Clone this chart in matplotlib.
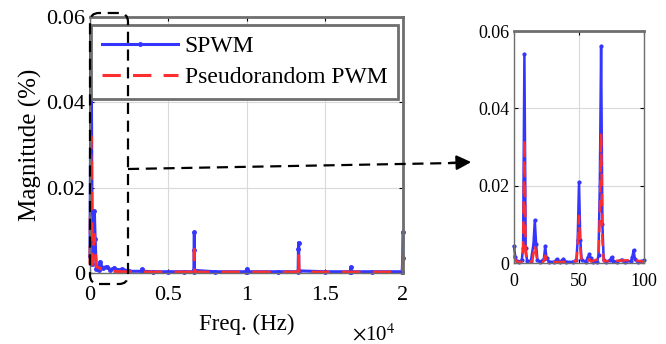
## Harmonic spectrum: SPWM vs pseudorandom PWM, with zoomed inset of 0-100 Hz
import numpy as np
import matplotlib
matplotlib.use('Agg')
import matplotlib.pyplot as plt
from matplotlib.patches import FancyBboxPatch, FancyArrowPatch
from matplotlib.lines import Line2D
from matplotlib.transforms import IdentityTransform

plt.rcParams['font.family'] = ['Liberation Serif', 'DejaVu Serif']
plt.rcParams['mathtext.fontset'] = 'stix'

## Main spectrum data (Hz, %)
spwm_f   = [0, 67, 150, 277, 330, 400, 550, 640, 800, 1070, 1300, 1560, 1800, 2030, 2500, 3300, 3333, 3400,
            4000, 5000, 6000, 6640, 6660, 6667, 6675, 8000, 9970, 10000, 10030, 12000, 13300, 13320, 13333,
            13345, 15000, 16640, 16667, 16700, 18000, 19950, 19980, 20000]
spwm_mag = [0.004, 0.056, 0.002, 0.0145, 0.008, 0.001, 0.0008, 0.0026, 0.0012, 0.0015, 0.0008, 0.0012, 0.0006,
            0.0009, 0.0004, 0.0004, 0.0009, 0.0004, 0.0003, 0.0003, 0.0003, 0.0003, 0.0055, 0.0095, 0.0006,
            0.0003, 0.0003, 0.0009, 0.0003, 0.0003, 0.0003, 0.0057, 0.0071, 0.0005, 0.0003, 0.0003, 0.0014,
            0.0003, 0.0003, 0.0003, 0.0034, 0.0095]

prpwm_f   = [0, 67, 150, 277, 400, 700, 1000, 2000, 4000, 6000, 6640, 6667, 6690, 10000, 13300, 13333, 13360,
             17000, 19960, 20000]
prpwm_mag = [0.002, 0.032, 0.002, 0.009, 0.0015, 0.001, 0.0005, 0.0003, 0.0002, 0.0002, 0.0002, 0.0055, 0.0002,
             0.0002, 0.0002, 0.0041, 0.0002, 0.0002, 0.0002, 0.0044]

## Inset data, 0-100 Hz
in_spwm_f   = [0, 1, 2, 4, 6, 7, 8, 9, 10, 13, 15, 16, 17, 18, 20, 23, 24, 25, 27, 31, 33, 35, 38, 40, 45, 48, 49,
               50, 51, 52, 55, 57, 58, 59, 61, 64, 65, 66, 67, 68, 69, 71, 74, 75, 76, 79, 83, 85, 90, 91, 92,
               93, 95, 98, 100]
in_spwm_mag = [0.0043, 0.0015, 0.0005, 0.0003, 0.0008, 0.004, 0.054, 0.004, 0.0006, 0.0005, 0.005, 0.011, 0.005,
               0.0008, 0.0003, 0.001, 0.0043, 0.0012, 0.0003, 0.0003, 0.001, 0.0003, 0.001, 0.0003, 0.0003,
               0.0008, 0.006, 0.0209, 0.006, 0.0008, 0.0003, 0.0015, 0.0022, 0.0012, 0.0003, 0.0003, 0.002,
               0.02, 0.056, 0.01, 0.0008, 0.0003, 0.0008, 0.0015, 0.0006, 0.0003, 0.0009, 0.0003, 0.0005,
               0.0015, 0.0033, 0.001, 0.0003, 0.0004, 0.0007]

in_prpwm_f   = [0, 1, 3, 6, 7, 8, 9, 10, 14, 15, 16, 17, 18, 22, 23, 24, 25, 27, 40, 48, 49, 50, 51, 52, 57, 58,
                59, 65, 66, 67, 68, 69, 75, 92, 100]
in_prpwm_mag = [0.002, 0.0008, 0.0002, 0.0004, 0.003, 0.032, 0.0025, 0.0003, 0.0004, 0.0025, 0.0046, 0.0025,
                0.0004, 0.0002, 0.0006, 0.0019, 0.0006, 0.0002, 0.0003, 0.0005, 0.004, 0.0122, 0.004, 0.0005,
                0.0006, 0.001, 0.0004, 0.001, 0.012, 0.0336, 0.006, 0.0005, 0.0005, 0.0008, 0.0003]

main_xticks = [0, 5000, 10000, 15000, 20000]
main_xlabels = ['0', '0.5', '1', '1.5', '2']
yticks = [0, 0.02, 0.04, 0.06]
ylabels = ['0', '0.02', '0.04', '0.06']

blue = '#3535ff'
red = '#ff2e2e'
frame = '#6e6e6e'

fig = plt.figure(figsize=(6.66, 3.44), dpi=100)

def style_axes(ax, fs):
    ax.tick_params(direction='in', top=True, right=True, length=3, labelsize=fs, width=0.8, colors='black')
    ax.grid(True, color='#d9d9d9', linewidth=0.8)
    ax.set_axisbelow(True)
    for s in ['left', 'bottom', 'right']:
        ax.spines[s].set_color(frame)
        ax.spines[s].set_linewidth(1.0)
    ax.spines['top'].set_color(frame)
    ax.spines['top'].set_linewidth(2.0)

## Main axes
ax1 = fig.add_axes([90/666, 1-273/344, 313/666, 256/344])
ax1.plot(spwm_f, spwm_mag, '-', color=blue, lw=2.2, marker='.', ms=5, label='SPWM', clip_on=False)
ax1.plot(prpwm_f, prpwm_mag, '--', color=red, lw=2.2, dashes=(6, 4), label='Pseudorandom PWM', clip_on=False)
ax1.set_xlim(0, 20000)
ax1.set_ylim(0, 0.06)
ax1.set_xticks(main_xticks)
ax1.set_xticklabels(main_xlabels)
ax1.set_yticks(yticks)
ax1.set_yticklabels(ylabels)
style_axes(ax1, 16)
ax1.spines['right'].set_linewidth(2.0)
ax1.tick_params(axis='x', pad=9)
ax1.set_xlabel('Freq. (Hz)', fontsize=16.5, labelpad=7)
ax1.set_ylabel('Magnitude (%)', fontsize=18, labelpad=3)
leg = ax1.legend(loc='upper right', bbox_to_anchor=(398/666, 1-25/344), bbox_transform=fig.transFigure,
                 borderaxespad=0, fontsize=17, handlelength=3.2, handletextpad=0.3,
                 labelspacing=0.4, borderpad=0.45, fancybox=False, framealpha=1)
leg.get_frame().set_edgecolor(frame)
leg.get_frame().set_linewidth(2.0)
fig.text(352/666, 1-340/344, r'$\times$10$^4$', fontsize=15, ha='left', va='baseline')

## Inset axes
ax2 = fig.add_axes([514/666, 1-263/344, 130/666, 232/344])
ax2.plot(in_spwm_f, in_spwm_mag, '-', color=blue, lw=1.8, marker='.', ms=4, clip_on=False)
ax2.plot(in_prpwm_f, in_prpwm_mag, '--', color=red, lw=1.8, dashes=(5, 3), clip_on=False)
ax2.set_xlim(0, 100)
ax2.set_ylim(0, 0.06)
ax2.set_xticks([0, 50, 100])
ax2.set_yticks(yticks)
ax2.set_yticklabels(ylabels)
style_axes(ax2, 13)
ax2.tick_params(axis='x', pad=7)

## Zoom marker: dashed rounded box and arrow (pixel coords, origin bottom-left)
H = 344
box = FancyBboxPatch((90, H-284), 38, 271, boxstyle='round,pad=0,rounding_size=9',
                     transform=IdentityTransform(), fill=False, ec='black', lw=1.6, ls=(0, (5, 3)))
fig.add_artist(box)
fig.add_artist(Line2D([128, 128, 455], [H-169, H-169, H-163], transform=IdentityTransform(),
                      color='black', lw=1.6, ls=(0, (5, 3))))
arr = FancyArrowPatch((447, H-163), (474, H-162), transform=IdentityTransform(),
                      arrowstyle='-|>', mutation_scale=22, color='black', lw=1.6)
fig.add_artist(arr)

fig.savefig('out.png', dpi=100)
